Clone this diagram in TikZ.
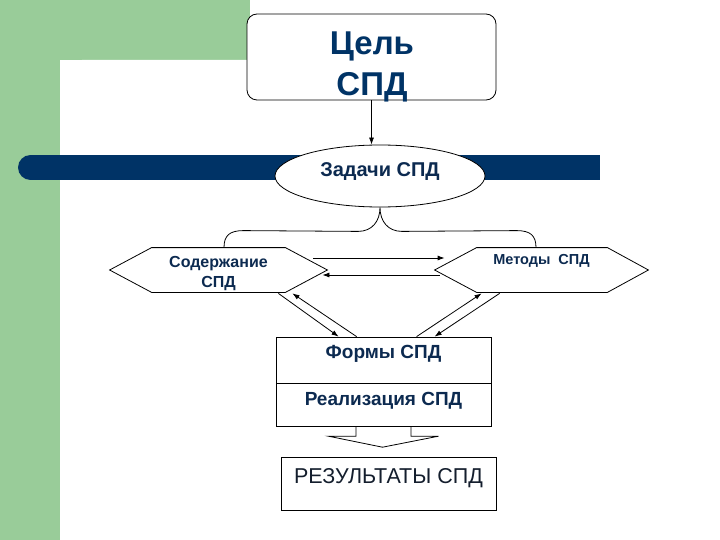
\documentclass[tikz,border=0pt]{standalone}
\usepackage{fontspec}
\setmainfont{Liberation Sans}
\usetikzlibrary{shapes.geometric,arrows.meta,calc}
\definecolor{greenbg}{RGB}{153,204,153}
\definecolor{navy}{RGB}{0,51,102}
\definecolor{txt}{RGB}{12,42,80}
\definecolor{restxt}{RGB}{20,30,45}
\begin{document}
\begin{tikzpicture}[x=1pt,y=-1pt,line width=0.8pt,
  box/.style={draw,fill=white,inner sep=0pt},
  arr/.style={-{Latex[length=7pt,width=5pt]}},
  hexlabel/.style={inner sep=0pt,minimum height=44pt,text=txt},
  midlabel/.style={text=txt,font=\fontsize{19}{22}\selectfont\bfseries},
  goaltext/.style={anchor=base,inner sep=0pt,text=navy,font=\fontsize{33}{38}\selectfont\bfseries}]
\useasboundingbox (0,0) rectangle (720,540);
% background
\fill[white] (0,0) rectangle (720,540);
\fill[greenbg] (0,0) rectangle (250,60);
\fill[greenbg] (0,0) rectangle (60,540);
\fill[white] (60,540) -- (60,82) .. controls (60,68) and (68,60) .. (82,60) -- (250,60) -- (250,540) -- cycle;
% bar
\draw[navy,line width=25pt,line cap=round] (30.5,167.5) -- (575,167.5);
\fill[navy] (575,155) rectangle (600,180);
% goal
\node[box,rounded corners=10pt,minimum width=249pt,minimum height=86pt] (goal) at (371.5,57) {};
\node[goaltext] (goalA) at (372,55) {Цель};
\node[goaltext] (goalB) at (372,96) {СПД};
% tasks
\node[ellipse,draw,fill=white,inner sep=0pt,minimum width=210pt,minimum height=62pt,
  text=txt,font=\fontsize{20}{24}\selectfont\bfseries,text height=13pt,text depth=11pt] (tasks) at (380,176) {Задачи СПД};
\draw[arr] (goal.south) -- (goal.south |- tasks.north);
% hexagons
\node[hexlabel,minimum width=217pt] (content) at (218.5,270) {};
\draw (content.west) -- ($(content.north west)+(42,0)$) -- ($(content.north east)+(-42,0)$) -- (content.east)
  -- ($(content.south east)+(-42,0)$) -- ($(content.south west)+(42,0)$) -- cycle;
\node[text=txt,align=center,inner sep=0pt,font=\fontsize{16}{20}\selectfont\bfseries] (contenttext) at ($(content.center)+(0,4)$) {Содержание\\СПД};
\node[hexlabel,minimum width=213pt,text height=10pt,text depth=22pt,font=\fontsize{14.5}{20}\selectfont\bfseries] (methods) at (541.5,270) {Методы\ \ СПД};
\draw (methods.west) -- ($(methods.north west)+(42,0)$) -- ($(methods.north east)+(-41,0)$) -- (methods.east)
  -- ($(methods.south east)+(-41,0)$) -- ($(methods.south west)+(42,0)$) -- cycle;
% brace
\draw ($(content.north)+(5.5,0)$) .. controls ($(content.north)+(5.5,-12)$) and ($(content.north)+(11,-17)$) .. ($(content.north)+(25,-17)$)
  -- ($(tasks.south)+(-22,24)$) .. controls ($(tasks.south)+(-8,24)$) and ($(tasks.south)+(0,14)$) .. (tasks.south)
  .. controls ($(tasks.south)+(0,14)$) and ($(tasks.south)+(8,24)$) .. ($(tasks.south)+(22,24)$)
  -- ($(methods.north)+(-25,-17)$) .. controls ($(methods.north)+(-11,-17)$) and ($(methods.north)+(-5.5,-12)$) .. ($(methods.north)+(-5.5,0)$);
% arrows between hexagons
\draw[arr] ($(content.east)+(-14,-12)$) -- ($(methods.west)+(10,-12)$);
\draw[arr] ($(methods.west)+(5,5)$) -- ($(content.east)+(-5,5)$);
% forms / realisation
\node[box,midlabel,minimum width=215pt,minimum height=46pt,text height=14pt,text depth=18pt] (forms) at (383.5,360) {Формы СПД};
\node[box,midlabel,minimum width=215pt,minimum height=43pt,text height=14pt,text depth=13pt,anchor=north] (realiz) at (forms.south) {Реализация СПД};
% diagonal arrows
\draw[arr] ($(content.south east)+(-49,1)$) -- ($(forms.north west)+(63,0)$);
\draw[arr] ($(forms.north west)+(81,0)$) -- ($(content.south east)+(-35,1)$);
\draw[arr] ($(forms.north west)+(141,0)$) -- ($(methods.south west)+(47,1)$);
\draw[arr] ($(methods.south west)+(65,1)$) -- ($(forms.north west)+(159,0)$);
% block arrow
\draw[fill=white] ($(realiz.south)+(-27.5,0)$) -- ++(0,9) -- ($(realiz.south)+(-55,9)$) -- ($(realiz.south)+(-1,20)$)
  -- ($(realiz.south)+(55,9)$) -- ($(realiz.south)+(27.5,9)$) -- ($(realiz.south)+(27.5,0)$);
% results
\node[box,minimum width=215pt,minimum height=53pt,text=restxt,font=\fontsize{21.5}{25}\selectfont,
  text height=16pt,text depth=18pt] (results) at (388.5,484) {РЕЗУЛЬТАТЫ СПД};
\end{tikzpicture}
\end{document}
